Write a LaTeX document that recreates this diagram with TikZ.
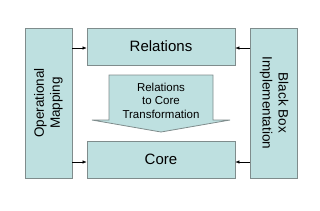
\documentclass[tikz,border=0pt]{standalone}
\usepackage{fontspec}
\setmainfont{Liberation Sans}
\usetikzlibrary{arrows.meta,positioning,calc}
\definecolor{boxfill}{HTML}{BEE0E0}
\definecolor{boxline}{HTML}{7F8C8C}
\tikzset{
  layerbox/.style={draw=boxline,fill=boxfill,line width=0.8pt,
    minimum width=148pt,minimum height=37pt,inner sep=0pt,
    font=\fontsize{15}{18}\selectfont,align=center},
  sidebox/.style={draw=boxline,fill=boxfill,line width=0.8pt,
    minimum width=150pt,minimum height=47pt,inner sep=0pt,
    font=\fontsize{13.5}{16}\selectfont,align=center},
  arr/.style={-{Latex[length=4pt,width=3.5pt]},draw=black,line width=0.5pt},
}

\begin{document}
\begin{tikzpicture}[x=1pt,y=-1pt]
    \useasboundingbox (0,0) rectangle (320,210);
    \node[layerbox] (rel) at (161,46.5) {Relations};
    \node[layerbox] (core) at (161,159.5) {Core};
    \node[sidebox,rotate=90] (opmap) at (48.5,103) {Operational\\Mapping};
    \node[sidebox,rotate=-90] (bbox) at (274,103) {Black Box\\Implementation};

    % transformation arrow
    \filldraw[draw=boxline,fill=boxfill,line width=0.8pt]
      (109,75) -- (213,75) -- (213,120) -- (230,120) -- (161,132)
      -- (92,120) -- (109,120) -- cycle;
    \node[align=center,font=\fontsize{11.5}{13.5}\selectfont] (xform) at (161,100.5)
      {Relations\\to Core\\Transformation};

    \draw[arr] ($(opmap.south |- rel.west)+(0,1.5)$) -- ($(rel.west)+(0,1.5)$);
    \draw[arr] ($(bbox.south |- rel.east)+(0,1.5)$) -- ($(rel.east)+(0,1.5)$);
    \draw[arr] ($(opmap.south |- core.west)+(0,2.5)$) -- ($(core.west)+(0,2.5)$);
    \draw[arr] ($(bbox.south |- core.east)+(0,2.5)$) -- ($(core.east)+(0,2.5)$);
\end{tikzpicture}
\end{document}
